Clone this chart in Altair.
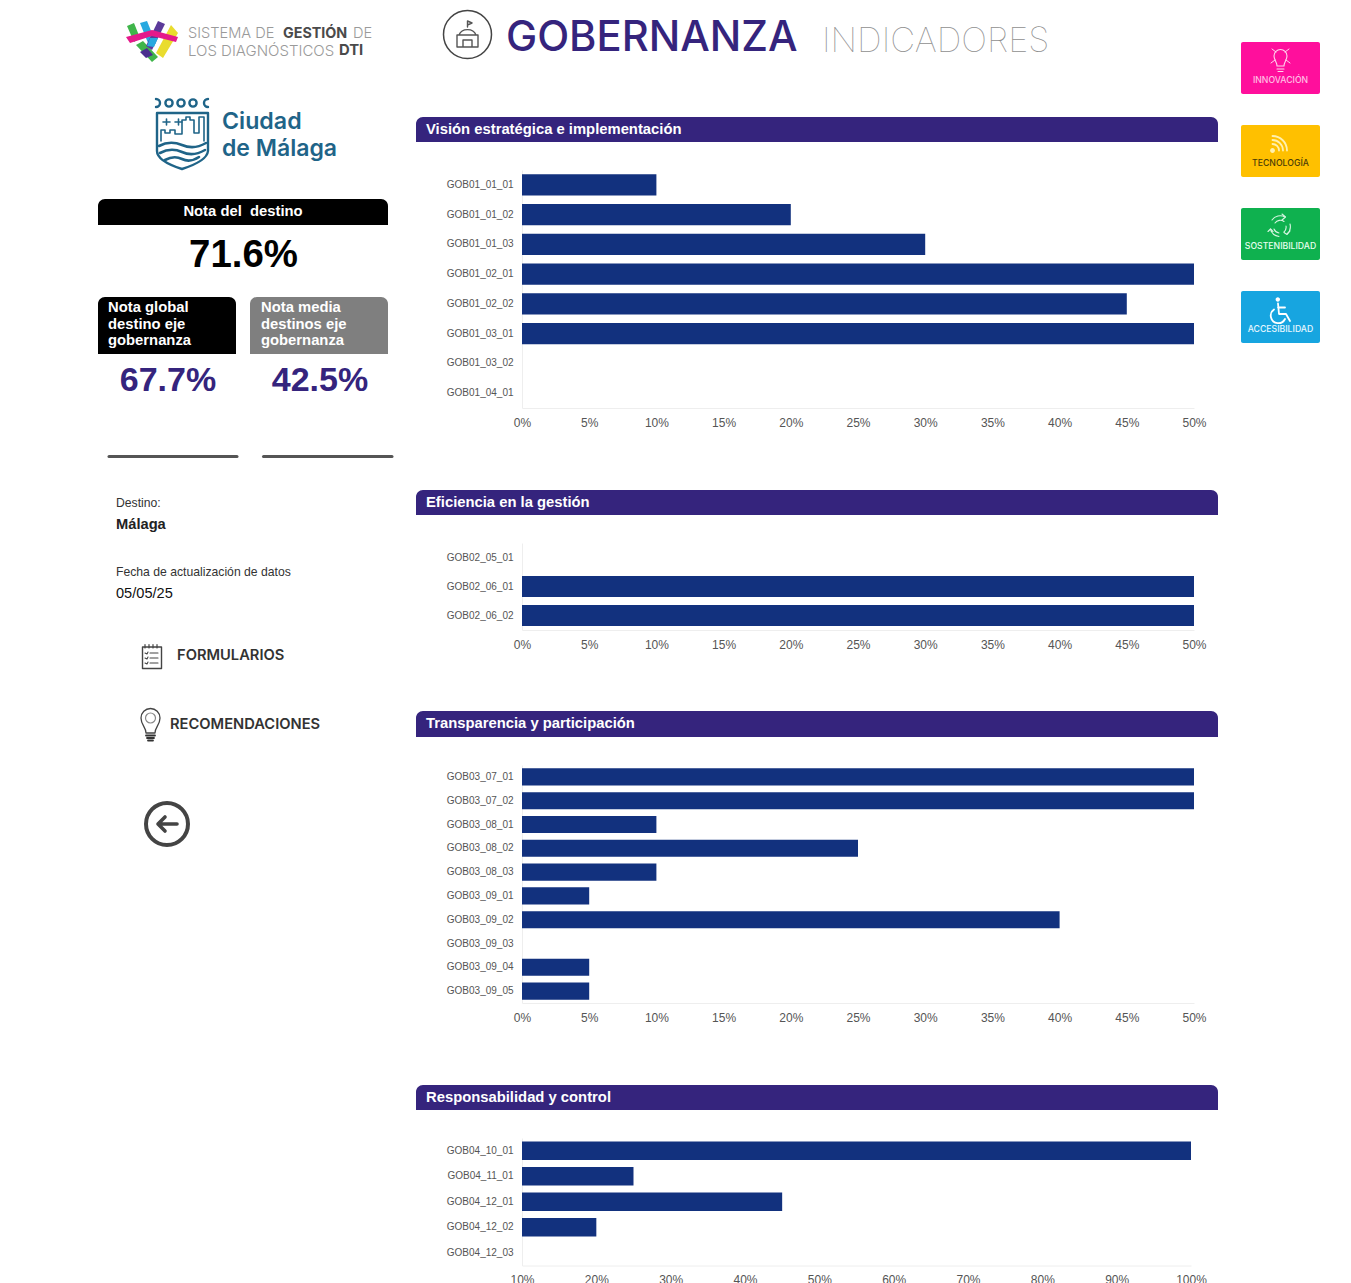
import altair as alt

# ---- data ----
titles = ["Visión estratégica e implementación", "Eficiencia en la gestión",
          "Transparencia y participación", "Responsabilidad y control"]
cats1 = ["GOB01_01_01", "GOB01_01_02", "GOB01_01_03", "GOB01_02_01", "GOB01_02_02", "GOB01_03_01", "GOB01_03_02", "GOB01_04_01"]
vals1 = [0.10, 0.20, 0.30, 0.50, 0.45, 0.50, 0.0, 0.0]
cats2 = ["GOB02_05_01", "GOB02_06_01", "GOB02_06_02"]
vals2 = [0.0, 0.50, 0.50]
cats3 = ["GOB03_07_01", "GOB03_07_02", "GOB03_08_01", "GOB03_08_02", "GOB03_08_03", "GOB03_09_01", "GOB03_09_02", "GOB03_09_03", "GOB03_09_04", "GOB03_09_05"]
vals3 = [0.50, 0.50, 0.10, 0.25, 0.10, 0.05, 0.40, 0.0, 0.05, 0.05]
cats4 = ["GOB04_10_01", "GOB04_11_01", "GOB04_12_01", "GOB04_12_02", "GOB04_12_03"]
vals4 = [1.00, 0.25, 0.45, 0.20, 0.0]
ticks_a = [0, .05, .10, .15, .20, .25, .30, .35, .40, .45, .50]
ticks_b = [.1, .2, .3, .4, .5, .6, .7, .8, .9, 1.0]

PURPLE = "#35247d"
NAVY = "#12317e"
TEAL = "#1f6488"
OX, OY = 522, 170
ONE = alt.Data(values=[{}])


def rect(x0, y0, x1, y1, fill, top=0, r=0):
    kw = {}
    if top:
        kw = dict(cornerRadiusTopLeft=top, cornerRadiusTopRight=top)
    if r:
        kw = dict(cornerRadius=r)
    return alt.Chart(ONE).mark_rect(fill=fill, opacity=1, **kw).encode(
        x=alt.value(x0 - OX), x2=alt.value(x1 - OX), y=alt.value(y0 - OY), y2=alt.value(y1 - OY))


def text(s, x, y, size, color="#000", weight="normal", font="Liberation Sans", align="left"):
    return alt.Chart(ONE).mark_text(fontSize=size, color=color, fontWeight=weight, font=font, align=align,
                                    baseline="middle").encode(
        x=alt.value(x - OX), y=alt.value(y + 1 - OY), text=alt.value(s))


def path(d, fill="transparent", stroke="transparent", sw=1):
    return alt.Chart(ONE).mark_point(shape=d, size=4, filled=False, fill=fill, stroke=stroke, strokeWidth=sw,
                                     opacity=1, strokeCap="round", strokeJoin="round").encode(
        x=alt.value(-OX), y=alt.value(-OY))


def circle(cx, cy, r):
    return f"M{cx-r},{cy}A{r},{r} 0 1 1 {cx+r},{cy}A{r},{r} 0 1 1 {cx-r},{cy}Z"


deco = [rect(8, 8, 1343, 1275, "transparent")]

# DTI logo
deco += [
    path("M127,26L134,23L140,38L134,42Z", fill="#3fb54a"),
    path("M136,45L143,41L158,57L152,62Z", fill="#3fb54a"),
    path("M140,23L147,21L156,43L150,48Z", fill="#29a9e0"),
    path("M158,21L165,24L152,50L146,46Z", fill="#5b3a9a"),
    path("M171,25L178,33L163,58L156,53Z", fill="#e9dc2e"),
    path("M126,37L152,30L178,37L176,42L152,36L130,43Z", fill="#e5198b"),
    path("M140,52L147,48L153,55L146,58Z", fill="#4a2f8f"),
    path("M150,38L158,38L154,47L147,46Z", fill="#29a9e0"),
]
deco += [
    text("SISTEMA DE", 188, 33, 14.6, "#9a9a9a", font="Inter", weight=300),
    text("GESTIÓN", 283, 33, 14.3, "#4a4a4a", font="Inter", weight=700),
    text("DE", 353, 33, 14.6, "#9a9a9a", font="Inter", weight=300),
    text("LOS DIAGNÓSTICOS", 188, 50, 15, "#9a9a9a", font="Inter", weight=300),
    text("DTI", 339, 50, 14.8, "#4a4a4a", font="Inter", weight=700),
]

# Ciudad de Málaga logo
rings = "".join(circle(x, 103, 3.6) for x in [169, 181, 193])
deco += [
    path(rings, stroke=TEAL, sw=2.4),
    path("M156,99A4,4 0 0 1 156,107M208,99A4,4 0 0 0 208,107", stroke=TEAL, sw=2.4),
    path("M157,113L208,113L208,151Q207,161 182,169Q157,161 157,151Z", stroke=TEAL, sw=2.4),
    path("M161,141L161,130L165,130L165,133L170,133L170,130L175,130L175,134L182,134L182,120L186,120L186,117L190,117L190,120L194,120L194,133L199,133L199,117L204,117L204,141",
         stroke=TEAL, sw=1.6),
    path("M163,122L170,122M166.5,119L166.5,125M175,122L182,122M178.5,119L178.5,125", stroke=TEAL, sw=1.6),
    path("M159,146Q170,140 182,145T206,143M160,153Q171,147 182,152T205,150M165,160Q174,155 182,159T199,157",
         stroke=TEAL, sw=2.6),
    text("Ciudad", 222, 121, 23.2, TEAL, font="Inter", weight=600),
    text("de Málaga", 222, 148, 23, TEAL, font="Inter", weight=600),
]

# Score boxes
deco += [
    rect(98, 199, 388, 225, "#000000", top=7),
    text("Nota del\u00a0 destino", 243, 211, 14.8, "#ffffff", "bold", align="center"),
    text("71.6%", 243.5, 254, 38.4, "#000000", "bold", align="center"),
    rect(98, 297, 236, 354, "#000000", top=7),
    rect(250, 297, 388, 354, "#7f7f7f", top=7),
]
for i, s in enumerate(["Nota global", "destino eje", "gobernanza"]):
    deco.append(text(s, 108, 307 + i * 16.5, 14.8, "#ffffff", "bold"))
for i, s in enumerate(["Nota media", "destinos eje", "gobernanza"]):
    deco.append(text(s, 261, 307 + i * 16.5, 14.8, "#ffffff", "bold"))
deco += [
    text("67.7%", 168, 380, 34, PURPLE, "bold", align="center"),
    text("42.5%", 320, 380, 34, PURPLE, "bold", align="center"),
    path("M109,456.5L237,456.5", stroke="#555555", sw=3),
    path("M263.5,456.5L392,456.5", stroke="#555555", sw=3),
    text("Destino:", 116, 502, 12.2, "#333333"),
    text("Málaga", 116, 524, 14.7, "#222222", "bold"),
    text("Fecha de actualización de datos", 116, 571, 12.2, "#333333"),
    text("05/05/25", 116, 593, 14.6, "#111111"),
    text("FORMULARIOS", 177, 655, 14.7, "#333333", font="Inter", weight=600),
    text("RECOMENDACIONES", 170, 724, 14.7, "#333333", font="Inter", weight=600),
]

# Form, bulb and back icons
deco += [
    path("M142.5,647L161.5,647L161.5,668.5L142.5,668.5Z", stroke="#444444", sw=1.4),
    path("M145,644.5L145,648M149,644.5L149,648M153,644.5L153,648M157,644.5L157,648", stroke="#444444", sw=1.2),
    path("M150,653L158,653M150,658L158,658M150,663L158,663M145,653L147,654L148,652M145,658L147,659L148,657M145,663L147,664L148,662",
         stroke="#444444", sw=1.1),
    path("M146,733C146,727 141,725 141,718A9.5,9.5 0 0 1 160,718C160,725 155,727 155,733Z", stroke="#444444", sw=1.3),
    path(circle(150.5, 718, 5), stroke="#888888", sw=1.2),
    path("M146,735.5L155,735.5M147,738L154,738M148,740.5L153,740.5", stroke="#333333", sw=1.8),
    path(circle(167, 824, 21), stroke="#444444", sw=4),
    path("M177,824L158,824M165,817L158,824L165,831", stroke="#444444", sw=3.6),
]

# Heading
deco += [
    path(circle(467.5, 34.5, 24), stroke="#444444", sw=1.5),
    path("M457,35L478,35L478,47L457,47ZM459,35A9,8 0 0 1 476,35M467.5,27L467.5,21L472,23L467.5,25M463,47L463,40L472,40L472,47",
         stroke="#555555", sw=1.4),
    text("GOBERNANZA", 506, 37, 41.7, PURPLE, font="Inter", weight=500),
    text("INDICADORES", 822, 40.5, 34.4, "#8f8f8f", font="Inter", weight=100),
]

# Side tiles
tiles = [(42, "#ff0f9c", "INNOVACIÓN", "#ffc0e4"), (125, "#ffc000", "TECNOLOGÍA", "#4a3c08"),
         (208, "#0fb14f", "SOSTENIBILIDAD", "#e8ffef"), (291, "#17a5e0", "ACCESIBILIDAD", "#e6f7ff")]
for top, col, lab, tc in tiles:
    deco.append(rect(1241, top, 1320, top + 52, col, r=2))
    deco.append(text(lab, 1280.5, top + 37, 8.7, tc, font="Inter", weight=500, align="center"))
deco += [
    path("M1277,66C1277,62 1274,60 1274,56A6.5,6.5 0 0 1 1287,56C1287,60 1284,62 1284,66ZM1277,69L1284,69M1278,71.5L1283,71.5",
         stroke="#ffd5ee", sw=1.1),
    path("M1272,49L1276,52M1289,49L1285,52M1271,63L1275,60M1290,63L1286,60", stroke="#ffd5ee", sw=1),
    path(circle(1272.5, 150.5, 2.4), fill="#fff0b0"),
    path("M1272.5,144A6.5,6.5 0 0 1 1279,150.5M1272.5,140A10.5,10.5 0 0 1 1283,150.5M1272.5,136A14.5,14.5 0 0 1 1287,150.5",
         stroke="#fff0b0", sw=1.8),
    path("M1272,220A10,10 0 0 1 1285,217M1290,224A10,10 0 0 1 1287,234M1279,236.5A10,10 0 0 1 1270.5,229"
         "M1275,223A6.5,6.5 0 0 1 1284,221.5M1286,226A6.5,6.5 0 0 1 1284,232M1279,233A6.5,6.5 0 0 1 1274,229",
         stroke="#d8f5e2", sw=1.1),
    path("M1282,214L1285.5,217L1282,220M1290,231L1287,234.5L1284,232.5M1273,231.5L1270.5,229L1268,231.5",
         stroke="#d8f5e2", sw=1.1),
    path(circle(1277.8, 299.5, 2.2), fill="#ffffff"),
    path("M1278,303.5L1279,314L1286,314L1290,321M1278,307.5L1285,307.5M1274,309.5A7.5,7.5 0 1 0 1285,319",
         stroke="#ffffff", sw=1.8),
]


def panel(title, cats, vals, height, domain, ticks, width, head_y, padding, extra=None):
    df = alt.Data(values=[{"c": c, "v": v} for c, v in zip(cats, vals)])
    head = alt.Chart(ONE).mark_rect(fill=PURPLE, opacity=1, cornerRadiusTopLeft=7, cornerRadiusTopRight=7).encode(
        x=alt.value(416 - OX), x2=alt.value(1218 - OX), y=alt.value(head_y[0]), y2=alt.value(head_y[1]))
    label = alt.Chart(ONE).mark_text(fontSize=14.8, color="#ffffff", fontWeight="bold", font="Liberation Sans",
                                     align="left", baseline="middle").encode(
        x=alt.value(426 - OX), y=alt.value((head_y[0] + head_y[1]) / 2), text=alt.value(title))
    bars = alt.Chart(df).mark_bar(color=NAVY, opacity=1, clip=True).encode(
        x=alt.X("v:Q", title=None, scale=alt.Scale(domain=domain, nice=False, zero=False),
                axis=alt.Axis(values=ticks, format=".0%", grid=False, ticks=False, domainColor="#eeeeee",
                              labelColor="#555555", labelFontSize=12, labelPadding=9, labelFlush=False,
                              labelFont="Liberation Sans", labelOverlap=False)),
        y=alt.Y("c:N", title=None, sort=None, scale=alt.Scale(paddingInner=padding, paddingOuter=padding / 2),
                axis=alt.Axis(ticks=False, grid=False, domainColor="#eeeeee", labelColor="#555555", labelFontSize=10,
                              labelPadding=9, labelFont="Liberation Sans", labelOverlap=False)),
    )
    layers = (extra or []) + [head, label, bars]
    return alt.layer(*layers).properties(width=width, height=height)


p1 = panel(titles[0], cats1, vals1, 238, [0, .5], ticks_a, 672, (-53, -28), .29, deco)
p2 = panel(titles[1], cats2, vals2, 87, [0, .5], ticks_a, 672, (-53, -28), .27)
p3 = panel(titles[2], cats3, vals3, 238, [0, .5], ticks_a, 672, (-54, -28), .28)
p4 = panel(titles[3], cats4, vals4, 127.5, [.1, 1.0], ticks_b, 669, (-53, -28), .28)

chart = alt.vconcat(p1, p2, p3, p4, spacing=135, bounds="flush").properties(padding=0).configure_view(stroke=None)
chart.save("out.html", embed_options={"renderer": "svg", "actions": False})
